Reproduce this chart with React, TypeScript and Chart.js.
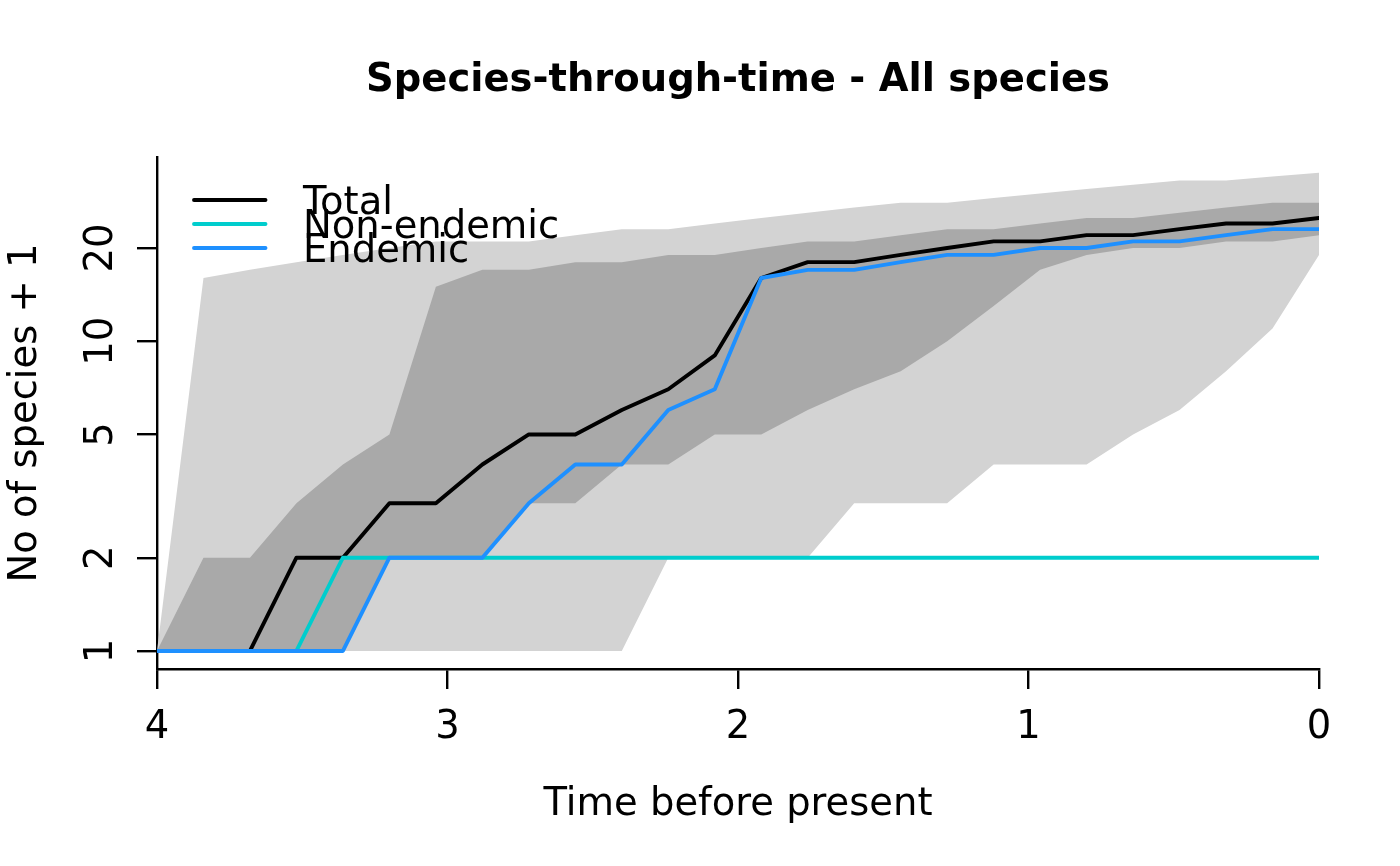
import React, { useEffect, useRef } from "react";
import { Chart, registerables } from "chart.js";

Chart.register(...registerables);

// ---- data ----
const times = [4, 3.84, 3.68, 3.52, 3.36, 3.2, 3.04, 2.88, 2.72, 2.56, 2.4, 2.24, 2.08, 1.92, 1.76, 1.6, 1.44, 1.28, 1.12, 0.96, 0.8, 0.64, 0.48, 0.32, 0.16, 0];
const totalSpecies = [1, 1, 1, 2, 2, 3, 3, 4, 5, 5, 6, 7, 9, 16, 18, 18, 19, 20, 21, 21, 22, 22, 23, 24, 24, 25];
const nonEndemicSpecies = [1, 1, 1, 1, 2, 2, 2, 2, 2, 2, 2, 2, 2, 2, 2, 2, 2, 2, 2, 2, 2, 2, 2, 2, 2, 2];
const endemicSpecies = [1, 1, 1, 1, 1, 2, 2, 2, 3, 4, 4, 6, 7, 16, 17, 17, 18, 19, 19, 20, 20, 21, 21, 22, 23, 23];
const innerUpper = [1, 2, 2, 3, 4, 5, 15, 17, 17, 18, 18, 19, 19, 20, 21, 21, 22, 23, 23, 24, 25, 25, 26, 27, 28, 28];
const innerLower = [1, 1, 1, 1, 1, 2, 2, 2, 3, 3, 4, 4, 5, 5, 6, 7, 8, 10, 13, 17, 19, 20, 20, 21, 21, 22];
const outerUpper = [1, 16, 17, 18, 19, 20, 21, 21, 21, 22, 23, 23, 24, 25, 26, 27, 28, 28, 29, 30, 31, 32, 33, 33, 34, 35];
const outerLower = [1, 1, 1, 1, 1, 1, 1, 1, 1, 1, 1, 2, 2, 2, 2, 3, 3, 3, 4, 4, 4, 5, 6, 8, 11, 19];
const xTicks = [0, 1, 2, 3, 4];
const yTicks = [1, 2, 5, 10, 20];
const seriesLabels = ["Total", "Non-endemic", "Endemic"];
const seriesColors = ["#000000", "#00CDCD", "#1E90FF"];
const chartTitle = "Species-through-time - All species";
const xTitle = "Time before present";
const yTitle = "No of species + 1";

const FONT = "'DejaVu Sans', sans-serif";
const FS = 38.5;
const LW = 3.9;

const toPts = (vals: number[]) => times.map((t, i) => ({ x: t, y: vals[i] }));

const legendPlugin = {
  id: "rLegend",
  afterDraw(chart: any, _args: any, opts: any) {
    const ctx = chart.ctx;
    ctx.save();
    ctx.font = `${FS}px ${FONT}`;
    ctx.textAlign = "left";
    ctx.textBaseline = "alphabetic";
    seriesLabels.forEach((label, i) => {
      const y = opts.rows[i];
      ctx.beginPath();
      ctx.strokeStyle = seriesColors[i];
      ctx.lineWidth = LW;
      ctx.lineCap = "round";
      ctx.moveTo(opts.x0, y);
      ctx.lineTo(opts.x1, y);
      ctx.stroke();
      ctx.fillStyle = "#000";
      ctx.fillText(label, opts.textX, y + opts.baselineOffset);
    });
    ctx.restore();
  },
};

export default function App() {
  const ref = useRef<HTMLCanvasElement | null>(null);

  useEffect(() => {
    document.body.style.margin = "0";
    const canvas = ref.current;
    if (!canvas) return;

    const lineDs = (label: string, vals: number[], color: string, order: number) => ({
      label,
      data: toPts(vals),
      borderColor: color,
      backgroundColor: color,
      borderWidth: LW,
      borderJoinStyle: "round" as const,
      borderCapStyle: "round" as const,
      pointRadius: 0,
      tension: 0,
      fill: false,
      order,
    });
    const bandDs = (label: string, vals: number[], fillColor: string, fill: any, order: number) => ({
      label,
      data: toPts(vals),
      borderColor: "rgba(0,0,0,0)",
      backgroundColor: fillColor,
      borderWidth: 0,
      pointRadius: 0,
      tension: 0,
      fill,
      order,
    });

    const chart = new Chart(canvas, {
      type: "line",
      data: {
        datasets: [
          lineDs(seriesLabels[2], endemicSpecies, seriesColors[2], 0),
          lineDs(seriesLabels[1], nonEndemicSpecies, seriesColors[1], 1),
          lineDs(seriesLabels[0], totalSpecies, seriesColors[0], 2),
          bandDs("inner upper", innerUpper, "#A9A9A9", "+1", 3),
          bandDs("inner lower", innerLower, "#A9A9A9", false, 4),
          bandDs("outer upper", outerUpper, "#D3D3D3", "+1", 5),
          bandDs("outer lower", outerLower, "#D3D3D3", false, 6),
        ] as any,
      },
      options: {
        responsive: false,
        animation: false,
        events: [],
        layout: { padding: { left: 0, right: 81, top: 0, bottom: 0 } },
        plugins: {
          legend: { display: false },
          tooltip: { enabled: false },
          title: {
            display: true,
            text: chartTitle,
            color: "#000",
            fullSize: false,
            font: { family: FONT, size: FS, weight: "bold", lineHeight: 1 },
            padding: { top: 62, bottom: 56.5 },
          },
          rLegend: { x0: 194, x1: 265.5, textX: 303, rows: [200, 224, 248], baselineOffset: 13.5 },
        } as any,
        scales: {
          x: {
            type: "linear",
            min: 0,
            max: 4,
            reverse: true,
            afterBuildTicks: (s: any) => {
              s.ticks = xTicks.map((v) => ({ value: v }));
            },
            afterFit: (s: any) => {
              s.height = 197;
            },
            ticks: {
              color: "#000",
              font: { family: FONT, size: FS },
              padding: 16,
              maxRotation: 0,
              autoSkip: false,
              callback: (v: any) => String(v),
            },
            grid: { drawOnChartArea: false, drawTicks: true, tickLength: 20, color: "#000", lineWidth: 2.4 },
            border: { display: true, color: "#000", width: 2.4 },
            title: {
              display: true,
              text: xTitle,
              color: "#000",
              font: { family: FONT, size: FS },
              padding: { top: 0, bottom: 38 },
            },
          },
          y: {
            type: "logarithmic",
            min: 0.8747,
            max: 39.33,
            afterBuildTicks: (s: any) => {
              s.ticks = yTicks.map((v) => ({ value: v }));
            },
            afterFit: (s: any) => {
              s.width = 157;
            },
            ticks: {
              color: "#000",
              font: { family: FONT, size: FS },
              padding: 11,
              minRotation: 90,
              maxRotation: 90,
              crossAlign: "center",
              autoSkip: false,
              callback: (v: any) => String(v),
            },
            grid: { drawOnChartArea: false, drawTicks: true, tickLength: 20, color: "#000", lineWidth: 2.4 },
            border: { display: true, color: "#000", width: 2.4 },
            title: {
              display: true,
              text: yTitle,
              color: "#000",
              font: { family: FONT, size: FS },
              padding: { top: 3, bottom: 0 },
            },
          },
        } as any,
      },
      plugins: [legendPlugin],
    });

    return () => chart.destroy();
  }, []);

  return (
    <div style={{ width: 1400, height: 866 }}>
      <canvas ref={ref} width={1400} height={866} style={{ display: "block" }} />
    </div>
  );
}
